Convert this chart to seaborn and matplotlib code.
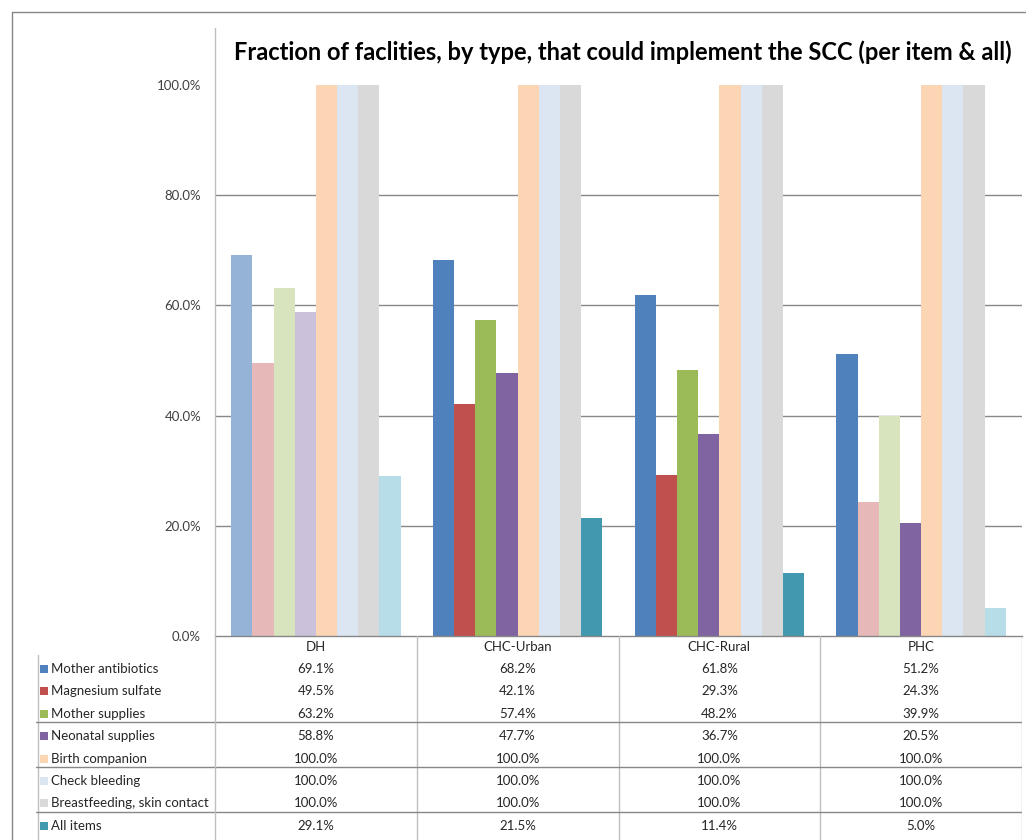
import matplotlib
matplotlib.use("Agg")
import matplotlib.pyplot as plt
import numpy as np
import pandas as pd
import seaborn as sns

# data
facilities = ["DH", "CHC-Urban", "CHC-Rural", "PHC"]
items = ["Mother antibiotics", "Magnesium sulfate", "Mother supplies", "Neonatal supplies",
         "Birth companion", "Check bleeding", "Breastfeeding, skin contact", "All items"]
mother_antibiotics = [69.1, 68.2, 61.8, 51.2]
magnesium_sulfate = [49.5, 42.1, 29.3, 24.3]
mother_supplies = [63.2, 57.4, 48.2, 39.9]
neonatal_supplies = [58.8, 47.7, 36.7, 20.5]
birth_companion = [100.0, 100.0, 100.0, 100.0]
check_bleeding = [100.0, 100.0, 100.0, 100.0]
breastfeeding = [100.0, 100.0, 100.0, 100.0]
all_items = [29.1, 21.5, 11.4, 5.0]
values = [mother_antibiotics, magnesium_sulfate, mother_supplies, neonatal_supplies,
          birth_companion, check_bleeding, breastfeeding, all_items]
y_ticks = [0.0, 0.2, 0.4, 0.6, 0.8, 1.0]

# styling: normal and faded colours per item, and which bars are faded
colors = ["#4F81BD", "#C0504D", "#9BBB59", "#8064A2", "#FCD5B5", "#DCE6F2", "#D9D9D9", "#4198AF"]
faded_colors = ["#95B3D7", "#E6B9B8", "#D7E4BD", "#CCC1DA", "#FCD5B5", "#DCE6F2", "#D9D9D9", "#B7DEE8"]
faded = {"DH": items, "PHC": ["Magnesium sulfate", "Mother supplies", "All items"]}

df = pd.DataFrame([(f, it, v / 100) for it, vals in zip(items, values) for f, v in zip(facilities, vals)],
                  columns=["facility", "item", "value"])

sns.set_theme(style="white")
plt.rcParams["font.family"] = ["Lato", "DejaVu Sans"]

W, H = 1026, 840
fig = plt.figure(figsize=(W / 100, H / 100), dpi=100)

def px(x0, y0, x1, y1):
    return [x0 / W, 1 - y1 / H, (x1 - x0) / W, (y1 - y0) / H]

ax = fig.add_axes(px(215, 85, 1022, 636))
sns.barplot(data=df, x="facility", y="value", hue="item", order=facilities, hue_order=items,
            width=0.84, saturation=1, legend=False, ax=ax, zorder=2)
for i, cont in enumerate(ax.containers):
    for j, bar in enumerate(cont):
        fac = facilities[j]
        c = faded_colors[i] if items[i] in faded.get(fac, []) else colors[i]
        bar.set_facecolor(c)
        bar.set_edgecolor("none")

ax.set_ylim(0, 1)
ax.set_xlim(-0.5, len(facilities) - 0.5)
ax.set_yticks(y_ticks)
ax.set_yticklabels([f"{t * 100:.1f}%" for t in y_ticks], fontsize=9.5, color="#404040")
ax.tick_params(axis="y", length=0, pad=10)
ax.set_xticks([])
ax.set_xlabel("")
ax.set_ylabel("")
for t in y_ticks[1:-1]:
    ax.axhline(t, color="#878787", lw=1, zorder=0)
for s in ["top", "right", "left"]:
    ax.spines[s].set_visible(False)
ax.spines["bottom"].set_color("#878787")
ax.spines["bottom"].set_linewidth(1)

fig.text(623 / W, 1 - 52 / H, "Fraction of faclities, by type, that could implement the SCC (per item & all)",
         ha="center", va="center", fontsize=17, fontweight="bold", color="black")

# data table below the plot, same x scale as the bars
tax = fig.add_axes(px(36, 636, 1022, 840))
unit = (1022 - 215) / len(facilities)
tax.set_xlim(-0.5 - (215 - 36) / unit, len(facilities) - 0.5)
tax.set_ylim(840, 636)
tax.axis("off")

row_y = [669 + 22.4 * k for k in range(len(items))]
for j, f in enumerate(facilities):
    tax.text(j, 647, f, ha="center", va="center", fontsize=9.5, color="#262626")
    if j > 0:
        tax.plot([j - 0.5, j - 0.5], [636, 840], color="#BFBFBF", lw=1)
tax.plot([len(facilities) - 0.5] * 2, [636, 840], color="#BFBFBF", lw=1)
x_left = tax.get_xlim()[0]
tax.plot([x_left + 0.01, x_left + 0.01], [655, 840], color="#BFBFBF", lw=1)
for sep in [2, 4, 6]:
    y = (row_y[sep] + row_y[sep + 1]) / 2 - 3
    tax.plot([x_left, len(facilities) - 0.5], [y, y], color="#878787", lw=1)

sq = 8 / unit
for i, it in enumerate(items):
    y = row_y[i]
    tax.add_patch(plt.Rectangle((x_left + 4 / unit, y - 4), sq, 8, color=colors[i], lw=0))
    tax.text(x_left + 15 / unit, y, it, ha="left", va="center", fontsize=9.5, color="#262626")
    for j in range(len(facilities)):
        tax.text(j, y, f"{values[i][j]:.1f}%", ha="center", va="center", fontsize=9.5, color="#262626")

# value axis line, running from above the plot down through the table
fig.add_artist(plt.Line2D([215 / W, 215 / W], [0, 1 - 28 / H], color="#BFBFBF", lw=1))
# outer chart border
fig.add_artist(plt.Line2D([12 / W, 12 / W], [0, 1 - 12 / H], color="#878787", lw=1))
fig.add_artist(plt.Line2D([12 / W, 1], [1 - 12 / H, 1 - 12 / H], color="#878787", lw=1))

fig.savefig("out.png", dpi=100)
